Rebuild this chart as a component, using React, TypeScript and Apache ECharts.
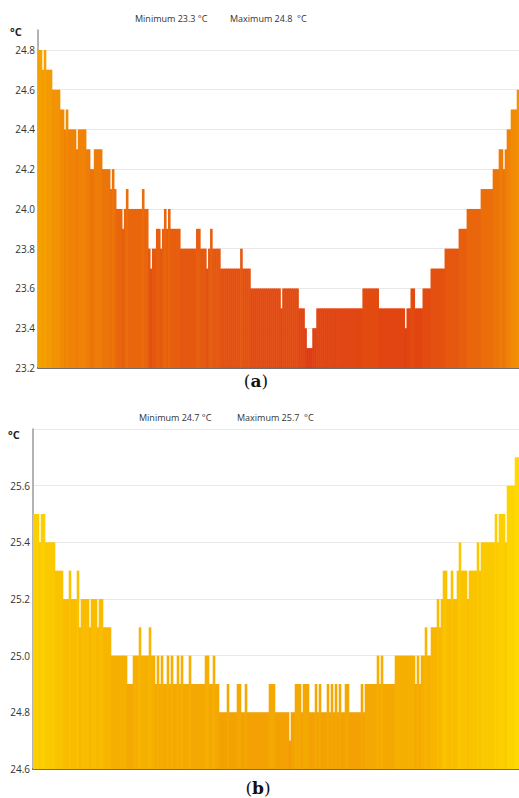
import React, { useEffect, useRef } from "react";
import * as echarts from "echarts";

// Panel (a): one value per bar, read left to right (°C)
const tempsA: number[] = [
  24.8, 24.8, 24.7, 24.8, 24.7, 24.7, 24.7, 24.6, 24.6, 24.6, 24.6, 24.5, 24.5, 24.4, 24.5, 24.4, 24.4, 24.4, 24.4, 24.3,
  24.4, 24.4, 24.4, 24.4, 24.3, 24.3, 24.2, 24.2, 24.3, 24.3, 24.3, 24.3, 24.2, 24.2, 24.2, 24.2, 24.1, 24.2, 24.1, 24.0,
  24.0, 24.0, 23.9, 24.0, 24.1, 24.0, 24.0, 24.0, 24.0, 24.0, 24.0, 24.0, 24.1, 24.0, 24.0, 23.8, 23.7, 23.8, 23.8, 23.9,
  23.9, 23.8, 23.9, 24.0, 23.9, 24.0, 23.9, 23.9, 23.9, 23.9, 23.9, 23.8, 23.8, 23.8, 23.8, 23.8, 23.8, 23.8, 23.8, 23.9,
  23.9, 23.8, 23.8, 23.8, 23.7, 23.8, 23.9, 23.8, 23.8, 23.8, 23.8, 23.7, 23.7, 23.7, 23.7, 23.7, 23.7, 23.7, 23.7, 23.7,
  23.7, 23.8, 23.7, 23.7, 23.7, 23.7, 23.6, 23.6, 23.6, 23.6, 23.6, 23.6, 23.6, 23.6, 23.6, 23.6, 23.6, 23.6, 23.6, 23.6,
  23.6, 23.5, 23.6, 23.6, 23.6, 23.6, 23.6, 23.6, 23.6, 23.6, 23.5, 23.5, 23.5, 23.4, 23.3, 23.3, 23.3, 23.4, 23.4, 23.5,
  23.5, 23.5, 23.5, 23.5, 23.5, 23.5, 23.5, 23.5, 23.5, 23.5, 23.5, 23.5, 23.5, 23.5, 23.5, 23.5, 23.5, 23.5, 23.5, 23.5,
  23.5, 23.5, 23.6, 23.6, 23.6, 23.6, 23.6, 23.6, 23.6, 23.6, 23.5, 23.5, 23.5, 23.5, 23.5, 23.5, 23.5, 23.5, 23.5, 23.5,
  23.5, 23.5, 23.5, 23.4, 23.5, 23.5, 23.6, 23.6, 23.5, 23.5, 23.5, 23.5, 23.6, 23.6, 23.6, 23.6, 23.7, 23.7, 23.7, 23.7,
  23.7, 23.7, 23.7, 23.8, 23.8, 23.8, 23.8, 23.8, 23.8, 23.8, 23.9, 23.9, 23.9, 23.9, 24.0, 24.0, 24.0, 24.0, 24.0, 24.0,
  24.0, 24.1, 24.1, 24.1, 24.1, 24.1, 24.1, 24.2, 24.2, 24.2, 24.3, 24.3, 24.2, 24.3, 24.4, 24.4, 24.5, 24.5, 24.5, 24.6,
];

// Panel (b): one value per bar, read left to right (°C)
const tempsB: number[] = [
  25.5, 25.5, 25.5, 25.4, 25.5, 25.5, 25.4, 25.4, 25.4, 25.4, 25.4, 25.3, 25.3, 25.3, 25.3, 25.2, 25.2, 25.2, 25.3, 25.2,
  25.2, 25.2, 25.3, 25.1, 25.2, 25.2, 25.2, 25.2, 25.1, 25.2, 25.2, 25.2, 25.1, 25.2, 25.2, 25.1, 25.1, 25.1, 25.1, 25.0,
  25.0, 25.0, 25.0, 25.0, 25.0, 25.0, 25.0, 24.9, 24.9, 24.9, 25.0, 25.0, 25.0, 25.1, 25.0, 25.0, 25.0, 25.0, 25.1, 25.0,
  25.0, 24.9, 25.0, 24.9, 25.0, 24.9, 24.9, 25.0, 24.9, 25.0, 24.9, 24.9, 25.0, 24.9, 25.0, 24.9, 24.9, 24.9, 25.0, 24.9,
  24.9, 24.9, 24.9, 24.9, 24.9, 24.9, 25.0, 25.0, 24.9, 24.9, 25.0, 24.9, 24.9, 24.8, 24.8, 24.8, 24.8, 24.9, 24.8, 24.8,
  24.8, 24.8, 24.9, 24.9, 24.8, 24.8, 24.9, 24.8, 24.8, 24.8, 24.8, 24.8, 24.8, 24.8, 24.8, 24.8, 24.8, 24.8, 24.9, 24.9,
  24.9, 24.8, 24.8, 24.8, 24.8, 24.8, 24.8, 24.8, 24.7, 24.8, 24.8, 24.9, 24.9, 24.9, 24.8, 24.9, 24.9, 24.9, 24.8, 24.8,
  24.8, 24.9, 24.8, 24.9, 24.8, 24.8, 24.8, 24.9, 24.8, 24.9, 24.8, 24.9, 24.8, 24.9, 24.8, 24.8, 24.9, 24.9, 24.8, 24.8,
  24.8, 24.8, 24.8, 24.8, 24.9, 24.8, 24.9, 24.9, 24.9, 24.9, 24.9, 24.9, 25.0, 24.9, 25.0, 24.9, 24.9, 24.9, 24.9, 24.9,
  24.9, 25.0, 25.0, 25.0, 25.0, 25.0, 25.0, 25.0, 25.0, 25.0, 25.0, 24.9, 25.0, 24.9, 25.0, 25.0, 25.1, 25.0, 25.0, 25.1,
  25.1, 25.1, 25.2, 25.1, 25.2, 25.3, 25.3, 25.2, 25.2, 25.3, 25.2, 25.2, 25.3, 25.4, 25.3, 25.3, 25.3, 25.2, 25.3, 25.3,
  25.3, 25.3, 25.4, 25.3, 25.4, 25.4, 25.4, 25.4, 25.4, 25.4, 25.4, 25.5, 25.4, 25.5, 25.5, 25.5, 25.4, 25.6, 25.6, 25.6,
  25.6, 25.7, 25.7,
];

const catsA = tempsA.map((_, i) => String(i + 1));
const catsB = tempsB.map((_, i) => String(i + 1));

const axisA = { min: 23.2, max: 24.9, interval: 0.2 };
const axisB = { min: 24.6, max: 25.8, interval: 0.2 };
const rangeA = { min: 23.3, max: 24.8 };
const rangeB = { min: 24.7, max: 25.7 };

const titleA = ["Minimum 23.3 °C", "Maximum 24.8  °C"];
const titleB = ["Minimum 24.7 °C", "Maximum 25.7  °C"];
const unitLabel = "°C";
const captionLetters = ["a", "b"];

const colorsA = ["#DE3A13", "#E34F10", "#EA6A0C", "#F08506", "#F5A200"];
const colorsB = ["#F29A05", "#F5AB02", "#F9BD00", "#FCCC00", "#FFD900"];

const SANS = "'Open Sans', 'Noto Sans', sans-serif";
const SERIF = "'DejaVu Serif', 'Liberation Serif', serif";

function yAxisFor(gridIndex: number, ax: { min: number; max: number; interval: number }, gridColors: string[]) {
  return {
    type: "value",
    gridIndex,
    min: ax.min,
    max: ax.max,
    interval: ax.interval,
    axisLine: { show: true, lineStyle: { color: "#9a9a9a", width: 1.5 } },
    axisTick: { show: false },
    axisLabel: {
      show: true,
      showMaxLabel: false,
      margin: 3,
      fontSize: 10,
      fontFamily: SANS,
      color: "#333",
      formatter: (v: number) => v.toFixed(1),
    },
    splitLine: { show: true, lineStyle: { color: gridColors, width: 1 } },
  };
}

function xAxisFor(gridIndex: number, cats: string[]) {
  return {
    type: "category",
    gridIndex,
    data: cats,
    boundaryGap: true,
    axisLine: { show: true, lineStyle: { color: "#6e6e6e", width: 2 } },
    axisTick: { show: false },
    axisLabel: { show: false },
    splitLine: { show: false },
  };
}

export default function App() {
  const ref = useRef<HTMLDivElement>(null);

  useEffect(() => {
    if (!ref.current) return;
    const chart = echarts.init(ref.current, undefined, { renderer: "svg" });

    const lightGrid = "#e9e9e9";
    const gridColorsA = [lightGrid, lightGrid, lightGrid, lightGrid, lightGrid, lightGrid, lightGrid, lightGrid, lightGrid, "rgba(0,0,0,0)"];
    const gridColorsB = [lightGrid];

    const titleText = (x: number, y: number, text: string) => ({
      type: "text",
      x,
      y,
      style: { text, fontSize: 9, fontFamily: SANS, fill: "#333", align: "left", verticalAlign: "middle" },
    });
    const unitText = (x: number, y: number) => ({
      type: "text",
      x,
      y,
      style: { text: unitLabel, fontSize: 11, fontWeight: "bold", fontFamily: SANS, fill: "#222", align: "left", verticalAlign: "middle" },
    });
    const caption = (x: number, y: number, letter: string) => ({
      type: "text",
      x,
      y,
      style: {
        text: "(" + "{b|" + letter + "})",
        fontSize: 17,
        fontFamily: SERIF,
        fill: "#111",
        align: "center",
        verticalAlign: "middle",
        rich: { b: { fontSize: 17, fontFamily: SERIF, fontWeight: "bold", fill: "#111" } },
      },
    });

    chart.setOption({
      animation: false,
      backgroundColor: "#ffffff",
      grid: [
        { left: 38, top: 30, width: 481, height: 338, containLabel: false },
        { left: 33, top: 429, width: 486, height: 340, containLabel: false },
      ],
      xAxis: [xAxisFor(0, catsA), xAxisFor(1, catsB)],
      yAxis: [yAxisFor(0, axisA, gridColorsA), yAxisFor(1, axisB, gridColorsB)],
      visualMap: [
        { type: "continuous", show: false, seriesIndex: 0, dimension: 1, min: rangeA.min, max: rangeA.max, inRange: { color: colorsA } },
        { type: "continuous", show: false, seriesIndex: 1, dimension: 1, min: rangeB.min, max: rangeB.max, inRange: { color: colorsB } },
      ],
      series: [
        { type: "bar", xAxisIndex: 0, yAxisIndex: 0, data: tempsA, barWidth: 2.6, clip: true },
        { type: "bar", xAxisIndex: 1, yAxisIndex: 1, data: tempsB, barWidth: 2.6, clip: true },
      ],
      graphic: [
        titleText(135, 18, titleA[0]),
        titleText(230, 18, titleA[1]),
        unitText(10, 31),
        caption(256, 381, captionLetters[0]),
        titleText(139, 417, titleB[0]),
        titleText(237, 417, titleB[1]),
        unitText(8, 434),
        caption(258, 788, captionLetters[1]),
      ],
    });

    return () => chart.dispose();
  }, []);

  return (
    <div
      ref={ref}
      style={{ position: "absolute", left: 0, top: 0, width: 519, height: 798, background: "#fff" }}
    />
  );
}
